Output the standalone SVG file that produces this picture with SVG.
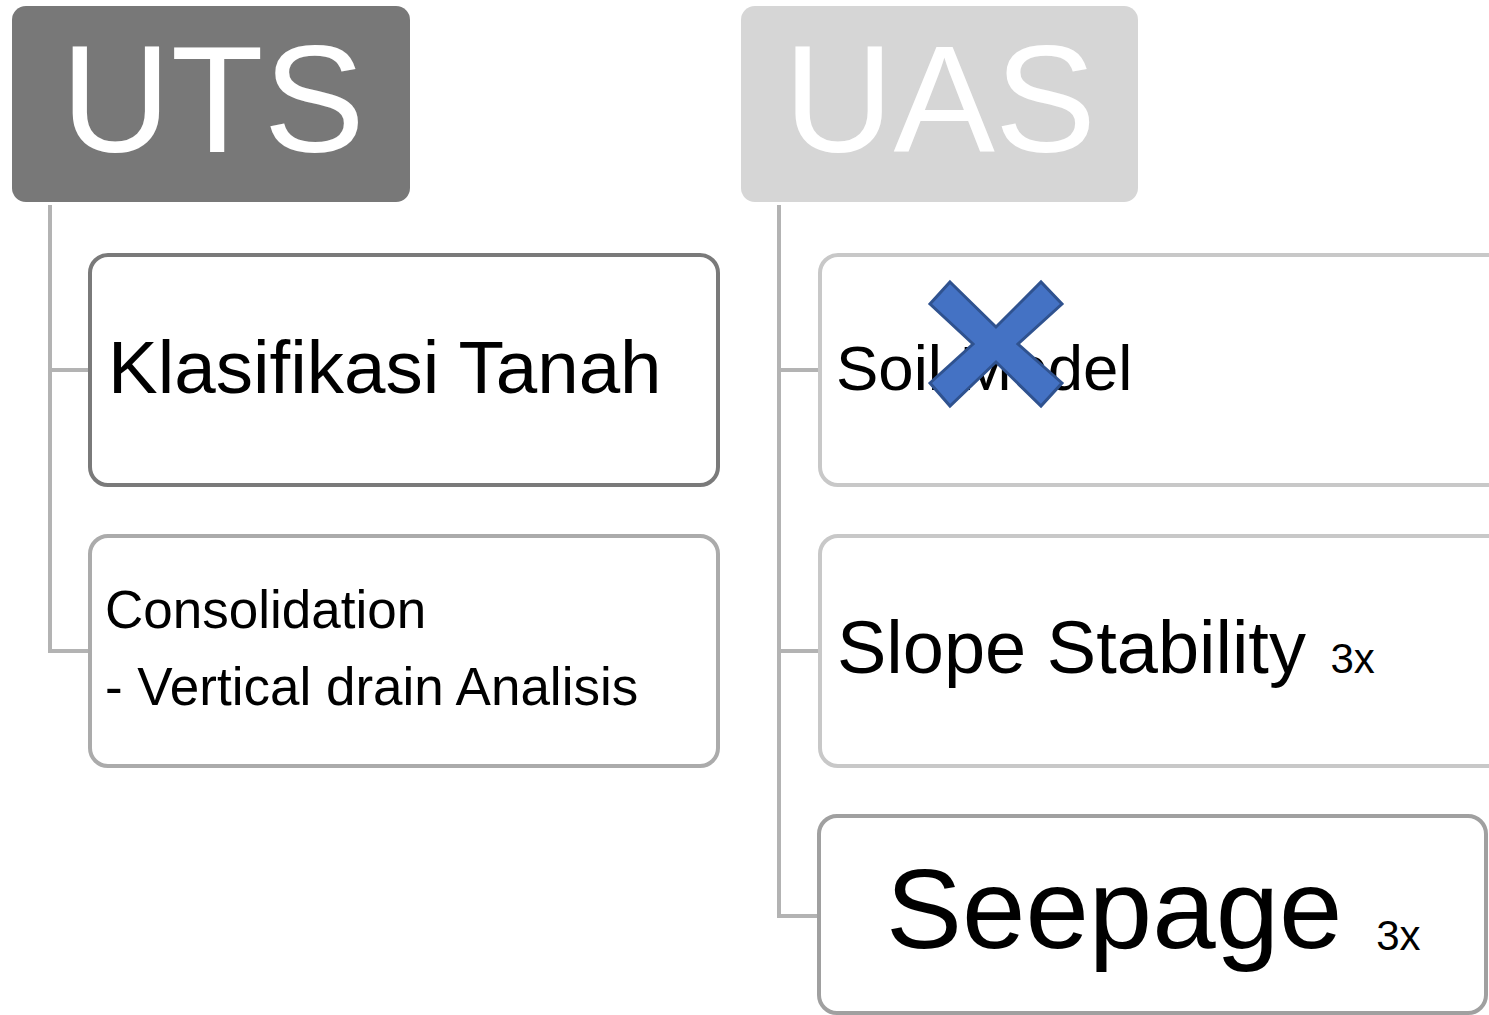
<svg xmlns="http://www.w3.org/2000/svg" width="1489" height="1015" viewBox="0 0 1489 1015">
<style>
text{font-family:"Liberation Sans",Arial,sans-serif;fill:#000}
.hdr{font-size:152px;fill:#fff;text-anchor:middle}
.box{fill:#fff;stroke-width:4}
.conn{fill:none;stroke:#b3b3b3;stroke-width:4}
</style>
<rect width="1489" height="1015" fill="#fff"/>
<g id="connectors">
<path class="conn" d="M50,205 V651 H90 M50,370 H90"/>
<path class="conn" d="M779,205 V916 H818 M779,370 H818 M779,651 H818"/>
</g>
<g id="uts">
<rect x="12" y="6" width="398" height="196" rx="14" fill="#787878"/>
<text class="hdr" x="213" y="152">UTS</text>
</g>
<g id="uas">
<rect x="741" y="6" width="397" height="196" rx="14" fill="#d6d6d6"/>
<text class="hdr" x="940" y="152">UAS</text>
</g>
<g id="klasifikasi">
<rect class="box" x="90" y="255" width="628" height="230" rx="18" stroke="#7a7a7a"/>
<text x="108" y="393" font-size="74.5">Klasifikasi Tanah</text>
</g>
<g id="consolidation">
<rect class="box" x="90" y="536" width="628" height="230" rx="18" stroke="#ababab"/>
<text x="105" y="628" font-size="53">Consolidation</text>
<text x="105" y="705" font-size="53">- Vertical drain Analisis</text>
</g>
<g id="soilmodel">
<rect class="box" x="820" y="255" width="700" height="230" rx="18" stroke="#c8c8c8"/>
<text x="836" y="390" font-size="63.5">Soil Model</text>
<polygon points="950,282 996,327 1041,282 1062,304 1018,344 1062,383 1041,406 996,362 950,406 930,383 973,344 930,304" fill="#4472c4" stroke="#2f528f" stroke-width="3"/>
</g>
<g id="slope">
<rect class="box" x="820" y="536" width="700" height="230" rx="18" stroke="#c8c8c8"/>
<text x="837" y="673" font-size="74">Slope Stability <tspan font-size="42" dx="4">3x</tspan></text>
</g>
<g id="seepage">
<rect class="box" x="819" y="816" width="667" height="197" rx="18" stroke="#a0a0a0"/>
<text x="886" y="948" font-size="114">Seepage <tspan font-size="42" dy="2" dx="2">3x</tspan></text>
</g>
</svg>
